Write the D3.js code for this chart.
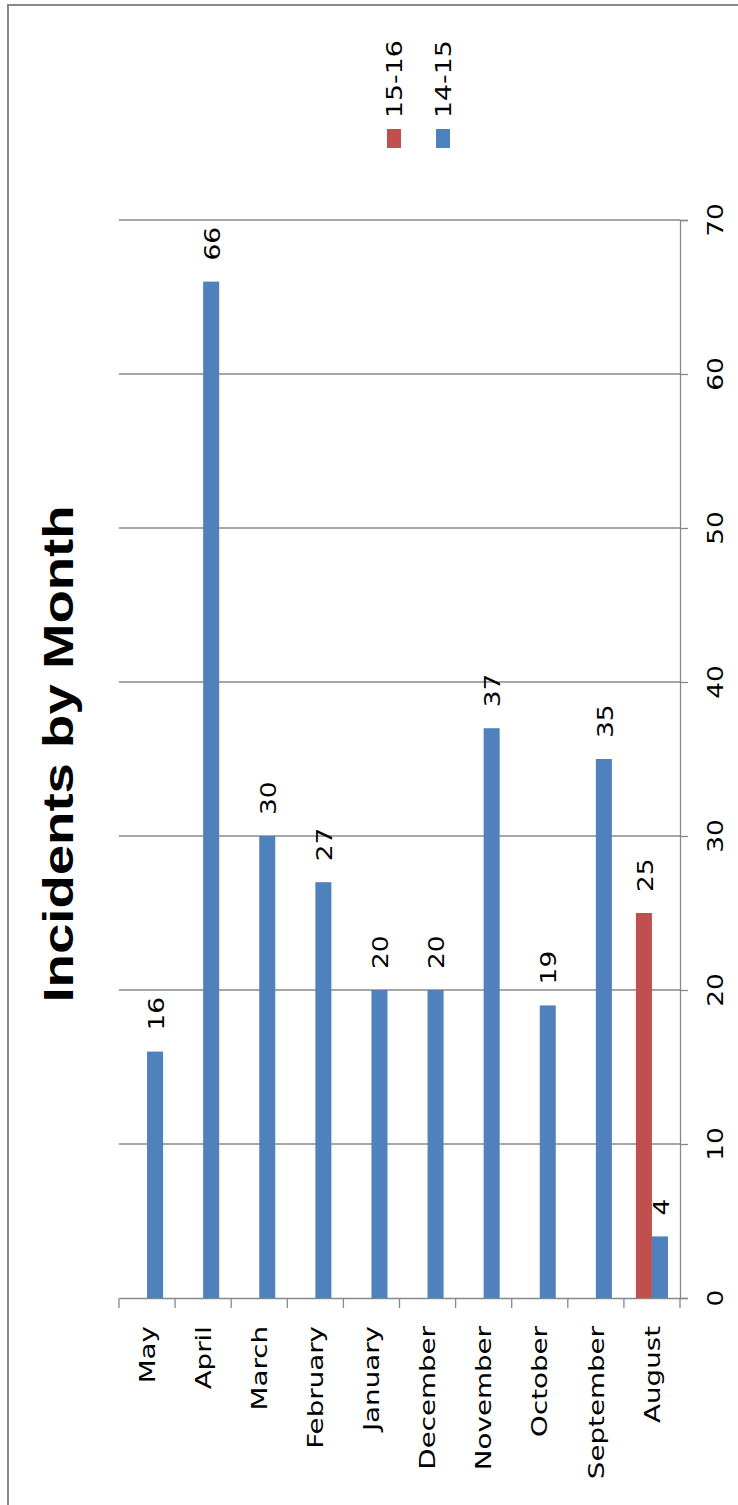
<!DOCTYPE html>
<html>
<head>
<meta charset="utf-8">
<script src="https://cdn.jsdelivr.net/npm/d3@7"></script>
<style>
  html, body { margin: 0; padding: 0; background: #fff; }
  svg { display: block; }
</style>
</head>
<body>
<svg id="chart" width="738" height="1505"></svg>
<script>
// Monthly incident counts, per season
const months = ["May", "April", "March", "February", "January", "December", "November", "October", "September", "August"];
const seriesNames = ["15-16", "14-15"];
const incidents1516 = [null, null, null, null, null, null, null, null, null, 25];
const incidents1415 = [16, 66, 30, 27, 20, 20, 37, 19, 35, 4];
const valueTicks = [0, 10, 20, 30, 40, 50, 60, 70];
const seriesColors = { "15-16": "#C0504D", "14-15": "#4F81BD" };

const svg = d3.select("#chart");
const W = 738, H = 1505;

// plot frame (the chart is laid out turned a quarter-turn: values run upward, months run across)
const plot = { left: 119, right: 680, top: 220, bottom: 1298 };
const gridColor = "#888888";
const labelFont = "DejaVu Sans, Verdana, sans-serif";

const x0 = d3.scaleBand().domain(months).range([plot.left, plot.right]).padding(0);
const bw = x0.bandwidth();
const gap = bw * 0.75 / 3.5; // 150% gap width between clusters
const x1 = d3.scaleBand().domain(seriesNames).range([gap, bw - gap]).padding(0);
const y = d3.scaleLinear().domain([0, 70]).range([plot.bottom, plot.top]);

// outer frame
svg.append("path")
  .attr("d", `M8,${H + 5} L8,5 L${W + 5},5`)
  .attr("fill", "none").attr("stroke", "#888").attr("stroke-width", 2);

// helper for text turned to read bottom-to-top, slightly stretched along the line
function turned(sel, tx, ty, stretch) {
  return sel.attr("transform", d => `translate(${tx(d)},${ty(d)}) rotate(-90) scale(${stretch},1)`);
}

// gridlines + value axis (on the right)
const yAxis = d3.axisRight(y).tickValues(valueTicks).tickSize(8).tickFormat("");
const yAxisG = svg.append("g").attr("transform", `translate(${plot.right},0)`).call(yAxis);
yAxisG.select(".domain").attr("stroke", gridColor).attr("stroke-width", 1.3);
yAxisG.selectAll(".tick line").attr("stroke", gridColor).attr("stroke-width", 1.3);

svg.append("g").selectAll("line").data(valueTicks.filter(v => v > 0)).join("line")
  .attr("x1", plot.left).attr("x2", plot.right)
  .attr("y1", d => y(d)).attr("y2", d => y(d))
  .attr("stroke", gridColor).attr("stroke-width", 1.3);

// value tick labels
turned(svg.append("g").selectAll("text").data(valueTicks).join("text"),
  () => 715, d => y(d), 1.2)
  .attr("text-anchor", "middle").attr("dy", "0.35em")
  .attr("font-family", labelFont).attr("font-size", 22).attr("fill", "#000")
  .text(d => d);

// category axis along the bottom
const xAxis = d3.axisBottom(x0).tickSize(0).tickFormat("");
const xAxisG = svg.append("g").attr("transform", `translate(0,${plot.bottom})`).call(xAxis);
xAxisG.select(".domain").attr("stroke", gridColor).attr("stroke-width", 1.3);
xAxisG.selectAll(".tick").remove();
const boundaries = months.map(m => x0(m)).concat([plot.right]);
svg.append("g").selectAll("line").data(boundaries).join("line")
  .attr("x1", d => d).attr("x2", d => d)
  .attr("y1", plot.bottom).attr("y2", plot.bottom + 10)
  .attr("stroke", gridColor).attr("stroke-width", 1.3);

// month labels
turned(svg.append("g").selectAll("text").data(months).join("text"),
  d => x0(d) + bw / 2, () => plot.bottom + 28, 1.26)
  .attr("text-anchor", "end").attr("dy", "0.35em")
  .attr("font-family", labelFont).attr("font-size", 22).attr("fill", "#000")
  .text(d => d);

// bars
const rows = [];
months.forEach((m, i) => {
  if (incidents1516[i] != null) rows.push({ month: m, series: "15-16", value: incidents1516[i] });
  if (incidents1415[i] != null) rows.push({ month: m, series: "14-15", value: incidents1415[i] });
});

svg.append("g").selectAll("rect").data(rows).join("rect")
  .attr("x", d => x0(d.month) + x1(d.series))
  .attr("width", x1.bandwidth())
  .attr("y", d => y(d.value))
  .attr("height", d => y(0) - y(d.value))
  .attr("fill", d => seriesColors[d.series]);

// value labels above each bar
turned(svg.append("g").selectAll("text").data(rows).join("text"),
  d => x0(d.month) + x1(d.series) + x1.bandwidth() / 2 + 1, d => y(d.value) - 21, 1.2)
  .attr("text-anchor", "start").attr("dy", "0.35em")
  .attr("font-family", labelFont).attr("font-size", 22).attr("fill", "#000")
  .text(d => d.value);

// legend
const legendX = d3.scalePoint().domain(seriesNames).range([394, 443]);
const legend = svg.append("g");
legend.selectAll("rect").data(seriesNames).join("rect")
  .attr("x", d => legendX(d) - 7).attr("y", 129)
  .attr("width", 14).attr("height", 19)
  .attr("fill", d => seriesColors[d]);
turned(legend.selectAll("text").data(seriesNames).join("text"),
  d => legendX(d), () => 118, 1.22)
  .attr("text-anchor", "start").attr("dy", "0.35em")
  .attr("font-family", labelFont).attr("font-size", 22).attr("fill", "#000")
  .text(d => d);

// title
svg.append("text")
  .attr("transform", `translate(58,754) rotate(-90) scale(1.3,1)`)
  .attr("text-anchor", "middle").attr("dy", "0.358em")
  .attr("font-family", "Liberation Sans, Arial, sans-serif")
  .attr("font-weight", "bold").attr("font-size", 42).attr("fill", "#000")
  .text("Incidents by Month");
</script>
</body>
</html>
